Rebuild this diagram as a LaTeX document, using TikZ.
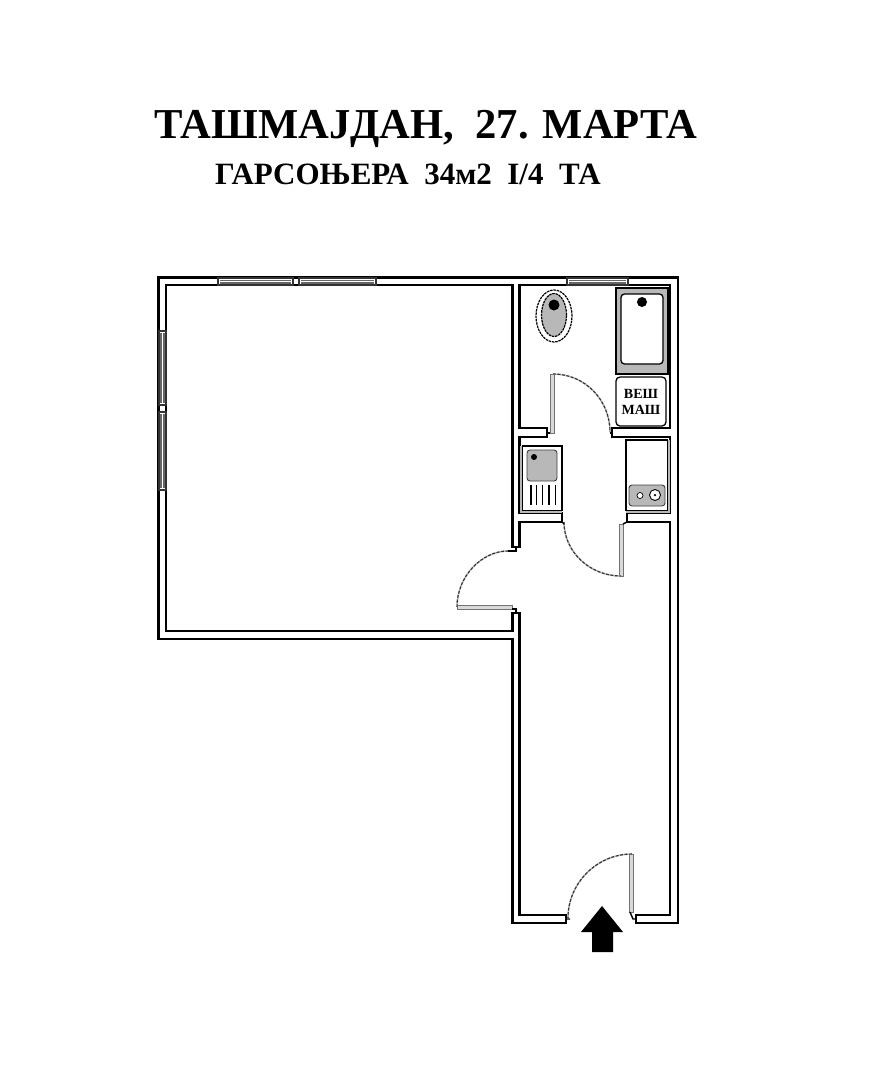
\documentclass[tikz,border=0pt]{standalone}
\usepackage{fontspec}
\setmainfont{Liberation Serif}
\usepackage{tikz}
\usetikzlibrary{shapes.geometric}
\definecolor{fixgray}{gray}{0.72}
\tikzstyle{wall} = [line width=2.1pt, draw=black, fill=white, line join=miter]
\tikzstyle{frame} = [line width=1.2pt, draw=black!80, fill=white]
\tikzstyle{pane} = [line width=1.1pt, draw=black!60]
\tikzstyle{leaf} = [line width=1pt, draw=black!55, fill=black!15]
\tikzstyle{swingbase} = [line width=1.6pt, draw=black!25]
\tikzstyle{swing} = [line width=1.1pt, draw=black!80, dash pattern=on 3pt off 1.5pt]
\tikzstyle{stub} = [line width=1.4pt, draw=black]
\tikzstyle{fixture} = [line width=1.3pt, draw=black, fill=white]
\tikzstyle{basin} = [line width=0.9pt, draw=black!75, fill=fixgray, rounded corners=3pt]
\tikzstyle{dot} = [circle, fill=black, inner sep=0pt]
\tikzstyle{heading} = [anchor=base west, inner sep=0pt, font=\bfseries]
\begin{document}
\begin{tikzpicture}[x=1pt, y=-1pt]
            \useasboundingbox (0,0) rectangle (877,1080);

            \node (title) [heading, font=\bfseries\fontsize{42.6}{42.6}\selectfont] at (154,138) {ТАШМАЈДАН,\ \ 27. МАРТА};
            \node (subtitle) [heading, font=\bfseries\fontsize{31}{31}\selectfont] at (215,184) {ГАРСОЊЕРА\ \ 34м2\ \ I/4\ \ ТА};

            \draw [wall] (166,285) -- (512.5,285) -- (512.5,547) -- (519.5,547) -- (519.5,522) -- (562,522)
                -- (562,513) -- (519.5,513) -- (519.5,437) -- (547,437) -- (547,428) -- (519.5,428)
                -- (519.5,285) -- (670,285) -- (670,428) -- (612,428) -- (612,437) -- (670,437)
                -- (670,513) -- (627,513) -- (627,522) -- (670,522) -- (670,915) -- (636,915)
                -- (636,923) -- (678,923) -- (678,277.5) -- (158.5,277.5) -- (158.5,639) -- (512.5,639)
                -- (512.5,923) -- (566,923) -- (566,915) -- (519.5,915) -- (519.5,613) -- (512.5,613)
                -- (512.5,631) -- (166,631) -- cycle;

            \draw [frame] (218,278) rectangle (293,285);
            \draw [pane] (220,280.2) -- (291,280.2) (220,283) -- (291,283);
            \draw [frame] (299,278) rectangle (376,285);
            \draw [pane] (301,280.2) -- (374,280.2) (301,283) -- (374,283);
            \draw [frame] (567,278) rectangle (628,285);
            \draw [pane] (569,280.2) -- (626,280.2) (569,283) -- (626,283);
            \draw [frame] (159,331) rectangle (166,405);
            \draw [pane, line width=1.6pt] (161,333) -- (161,403) (163.8,333) -- (163.8,403);
            \draw [frame] (159,412) rectangle (166,490);
            \draw [pane, line width=1.6pt] (161,414) -- (161,488) (163.8,414) -- (163.8,488);

            \draw [leaf] (550,374) rectangle (554,433);
            \draw [swingbase] (553,374) .. controls (585,374) and (610,400) .. (610,432);
            \draw [swing] (553,374) .. controls (585,374) and (610,400) .. (610,432);
            \draw [stub] (547,433) -- (550,433) (610,433) -- (612,433);
            \draw [leaf] (619,524) rectangle (623,576);
            \draw [swingbase] (564,522) .. controls (564,552) and (590,576) .. (621,576);
            \draw [swing] (564,522) .. controls (564,552) and (590,576) .. (621,576);
            \draw [stub] (562,522) -- (564,524) (623,524) -- (627,522);
            \draw [leaf] (457,605) rectangle (512,609);
            \draw [swingbase] (457,607) .. controls (457,576) and (482,551) .. (508,551);
            \draw [swing] (457,607) .. controls (457,576) and (482,551) .. (508,551);
            \draw [stub] (508,551) -- (516,551) -- (516,547) (512,609) -- (516,609) -- (516,613);
            \draw [leaf] (629,854) rectangle (633,912);
            \draw [swingbase] (632,854) .. controls (597,854) and (568,883) .. (568,918);
            \draw [swing] (632,854) .. controls (597,854) and (568,883) .. (568,918);
            \draw [stub] (566,919) -- (570,919) (630,912) -- (633,919) -- (636,919);

            \node (seat) [ellipse, minimum width=36pt, minimum height=52pt, inner sep=0pt, line width=1.2pt,
                draw=black, dash pattern=on 2.5pt off 0.8pt] at (554,316) {};
            \node (bowl) [ellipse, minimum width=25pt, minimum height=43pt, inner sep=0pt, line width=1.2pt,
                draw=black, dash pattern=on 2.5pt off 0.8pt, fill=fixgray] at (554,315) {};
            \node (bowldot) [dot, minimum size=11pt] at (554,305) {};

            \draw [line width=1.2pt, fill=fixgray] (616,288) rectangle (668,374);
            \node (tub) [fixture, rounded corners=3.5pt, minimum width=42pt, minimum height=70pt] at (642,329) {};
            \node (tubdot) [dot, minimum size=10pt] at (642,302) {};

            \node (washer) [fixture, rounded corners=4pt, minimum width=50pt, minimum height=49pt, inner sep=0pt,
                align=center, font=\bfseries\fontsize{14}{16}\selectfont] at (641,401.5) {ВЕШ\\МАШ};

            \fill [fixgray] (519.5,446) rectangle (562,513);
            \draw [fixture] (522.5,446) rectangle (562,510.5);
            \node (sink) [basin, minimum width=30pt, minimum height=31pt] at (542,465.5) {};
            \node (sinkdot) [dot, minimum size=6pt] at (534,457) {};
            \draw [line width=1.1pt] (531,485) -- (531,505) (536.5,485) -- (536.5,505) (542.5,485) -- (542.5,505)
                (549,485) -- (549,505) (555.5,485) -- (555.5,505);

            \fill [fixgray] (626,440) rectangle (670,513);
            \draw [fixture] (626,440) rectangle (667.5,510.5);
            \node (hob) [basin, minimum width=36pt, minimum height=21pt] at (647,495.5) {};
            \node (ringsmall) [circle, draw=black, line width=0.7pt, fill=white, minimum size=6pt, inner sep=0pt] at (640,495.5) {};
            \node (ringbig) [circle, draw=black, line width=0.9pt, fill=white, minimum size=11pt, inner sep=0pt] at (655,495) {};
            \node (ringdot) [dot, minimum size=2.5pt] at (655,495) {};

            \fill (602,906) -- (623,932) -- (613,932) -- (613,952) -- (592,952) -- (592,932) -- (581,932) -- cycle;
        \end{tikzpicture}
\end{document}
